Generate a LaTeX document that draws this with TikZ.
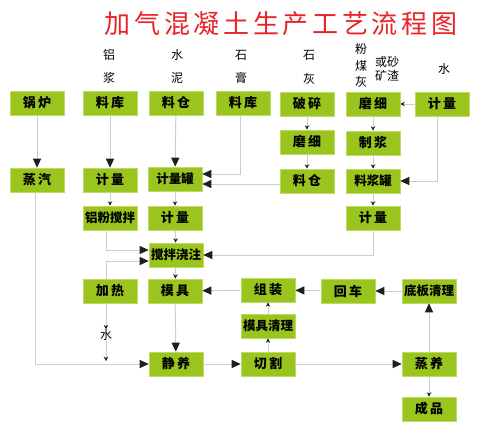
\documentclass[tikz,border=0pt]{standalone}
\usepackage{fontspec}
\setmainfont{Noto Sans CJK SC}
\newfontfamily\cjk{Noto Sans CJK SC}
\newfontfamily\cjkwide[LetterSpace=18]{Noto Sans CJK SC}
\newfontfamily\cjktitle[LetterSpace=14]{Noto Sans CJK SC}
\usetikzlibrary{arrows.meta}
\definecolor{boxgreen}{RGB}{154,196,30}
\definecolor{boxedge}{RGB}{190,220,100}
\definecolor{linegray}{RGB}{205,205,205}
\definecolor{tipdark}{RGB}{25,35,25}
\definecolor{titlered}{RGB}{232,36,40}
\begin{document}
\begin{tikzpicture}[x=1pt,y=-1pt,
 box/.style={minimum width=54pt,minimum height=24pt,inner sep=0pt,fill=boxgreen,draw=boxedge,line width=0.6pt,font=\cjk\bfseries\fontsize{12.5}{13}\selectfont},
 wbox/.style={box,font=\cjkwide\bfseries\fontsize{13}{13}\selectfont},
 lbl/.style={font=\cjk\fontsize{12}{14}\selectfont,inner sep=0pt,align=center},
 conn/.style={draw=linegray,line width=1pt},
 big/.style={conn,-{Triangle[length=9pt,width=8pt,color=tipdark]}},
 small/.style={conn,-{Stealth[length=4.5pt,width=4.5pt,color=tipdark]}}]
\fill[white] (0,0) rectangle (500,434);
\useasboundingbox (0,0) rectangle (500,434);

% title
\node[font=\cjktitle\fontsize{26}{28}\selectfont,text=titlered,inner sep=0pt] (title) at (281,24) {加气混凝土生产工艺流程图};

% column labels
\node[lbl,font=\cjk\fontsize{12}{23}\selectfont] (lvjiang) at (109,66.5) {铝\\浆};
\node[lbl,font=\cjk\fontsize{12}{23}\selectfont] (shuini) at (177,66.5) {水\\泥};
\node[lbl,font=\cjk\fontsize{12}{23}\selectfont] (shigao) at (241,66.5) {石\\膏};
\node[lbl,font=\cjk\fontsize{12}{24}\selectfont] (shihui) at (309,67) {石\\灰};
\node[lbl,font=\cjk\fontsize{12}{16.5}\selectfont] (fenmeihui) at (361,65.5) {粉\\煤\\灰};
\node[lbl,font=\cjk\fontsize{12}{14}\selectfont] (shazha) at (387,69) {或砂\\矿渣};
\node[lbl] (shuitop) at (444,69) {水};

% row 1
\node[wbox] (guolu) at (37,103) {锅炉};
\node[wbox] (liaoku1) at (110,103) {料库};
\node[wbox] (liaocang) at (176,103) {料仓};
\node[wbox] (liaoku2) at (243,103) {料库};
\node[wbox] (posui) at (307,104) {破碎};
\node[wbox] (moxi2) at (373,104) {磨细};
\node[wbox] (jiliang4) at (442,104) {计量};

% right side chain
\node[wbox] (moxi1) at (307,142) {磨细};
\node[wbox] (zhijiang) at (373,143) {制浆};
\node[wbox] (liaocang2) at (307,181) {料仓};
\node[box] (liaojiangguan) at (373,181) {料浆罐};
\node[wbox] (jiliang3) at (373,218) {计量};

% row 2
\node[wbox] (zhengqi) at (37,180) {蒸汽};
\node[wbox] (jiliang1) at (110,180) {计量};
\node[box] (jlguan) at (175,179) {计量罐};

% row 3
\node[box] (lvfen) at (110,218) {铝粉搅拌};
\node[wbox] (jiliang2) at (175,218) {计量};
\node[box] (jiaoban) at (176,255) {搅拌浇注};

% row 4
\node[wbox] (jiare) at (110,291) {加热};
\node[wbox] (muju) at (175,291) {模具};
\node[wbox] (zuzhuang) at (268,290) {组装};
\node[wbox] (huiche) at (348,291) {回车};
\node[box] (diban) at (429,291) {底板清理};
\node[box] (mujuqingli) at (268,326) {模具清理};

% row 5
\node[wbox] (jingyang) at (176,364) {静养};
\node[wbox] (qiege) at (268,364) {切割};
\node[wbox] (zhengyang) at (429,364) {蒸养};
\node[wbox] (chengpin) at (429,409) {成品};

\node[lbl] (shui) at (106,335) {水};
\coordinate (shuijoin) at (106,361);

% connectors
\draw[big] (guolu) -- (zhengqi);
\draw[big] (liaoku1) -- (jiliang1);
\draw[big] (liaocang) -- (jlguan);
\draw[big] ([xshift=-3pt]liaoku2.south) |- (jlguan.east |- 0,174);
\draw[big] (liaocang2.west |- 0,184) -- (jlguan.east |- 0,184);
\draw[small] (jiliang1) -- (lvfen);
\draw[small] (jlguan) -- (jiliang2);
\draw[small] (jiliang2) -- (jiaoban);
\draw[big] ([xshift=-4pt]lvfen.south) |- (jiaoban.west |- 0,250);
\draw[big] ([xshift=-4pt]jiare.north) |- (jiaoban.west |- 0,261);
\draw[big] (jiliang3.south) |- (jiaoban.east);
\draw[small] (posui) -- (moxi1);
\draw[small] (moxi1) -- (liaocang2);
\draw[small] (moxi2) -- (zhijiang);
\draw[small] (zhijiang) -- (liaojiangguan);
\draw[small] (liaojiangguan) -- (jiliang3);
\draw[small] (jiliang4) -- (moxi2);
\draw[big] ([xshift=-5pt]jiliang4.south) |- (liaojiangguan.east);
\draw[small] (jiaoban) -- (muju);
\draw[big] (muju) -- (jingyang);
\draw[big] (zuzhuang) -- (muju);
\draw[big] (huiche) -- (zuzhuang);
\draw[big] (diban) -- (huiche);
\draw[small] (mujuqingli) -- (zuzhuang);
\draw[small] (qiege) -- (mujuqingli);
\draw[big] (jingyang) -- (qiege);
\draw[big] (qiege) -- (zhengyang);
\draw[big] (zhengyang) -- (diban);
\draw[small] (zhengyang) -- (chengpin);
\draw[big] ([xshift=-2pt]zhengqi.south) |- (jingyang.west);
\draw[small] ([xshift=-4pt]jiare.south) -- (shui);
\draw[small] (shui) -- (shuijoin);
\end{tikzpicture}
\end{document}
